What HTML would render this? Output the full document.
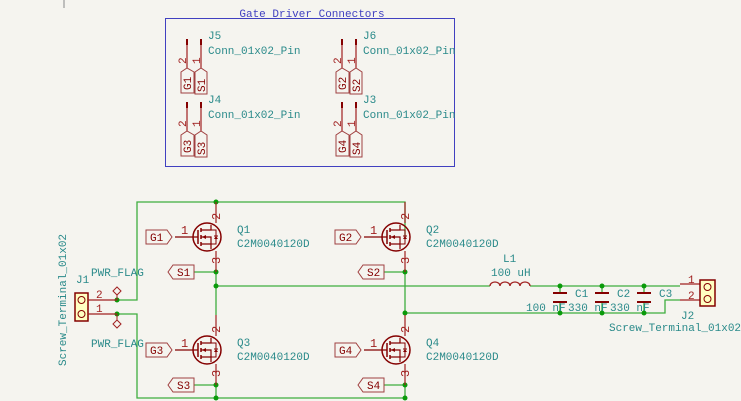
<!DOCTYPE html>
<html><head><style>
html,body{margin:0;padding:0;background:#f5f4ef;}
svg{display:block;}
text{font-family:"Liberation Mono","DejaVu Sans Mono",monospace;}
</style></head><body>
<svg width="741" height="401" viewBox="0 0 741 401" xmlns="http://www.w3.org/2000/svg">
<defs>
<g id="fet">
 <circle cx="0" cy="0" r="14" fill="none" stroke="#840000" stroke-width="1.5"/>
 <line x1="-9" y1="-7" x2="-9" y2="7" stroke="#840000" stroke-width="1.5"/>
 <line x1="-6" y1="-9" x2="-6" y2="-5" stroke="#840000" stroke-width="1.5"/>
 <line x1="-6" y1="-2" x2="-6" y2="2" stroke="#840000" stroke-width="1.5"/>
 <line x1="-6" y1="5" x2="-6" y2="9" stroke="#840000" stroke-width="1.5"/>
 <polyline points="-6,-7 4,-7 4,-12" fill="none" stroke="#840000" stroke-width="1.2"/>
 <polyline points="-6,7 4,7 4,12" fill="none" stroke="#840000" stroke-width="1.2"/>
 <polyline points="-6,0 4,0 4,7" fill="none" stroke="#840000" stroke-width="1.2"/>
 <polygon points="-5,0 -1,-2 -1,2" fill="#840000"/>
 <polyline points="4,-7 9,-7 9,7 4,7" fill="none" stroke="#840000" stroke-width="1"/>
 <polygon points="7,2 11,2 9,-1" fill="#840000"/>
 <line x1="7" y1="-1" x2="11" y2="-1" stroke="#840000"/>
 <line x1="-32" y1="0" x2="-9" y2="0" stroke="#840000" stroke-width="1.2"/>
 <line x1="9" y1="-14" x2="9" y2="-35" stroke="#a02020" stroke-width="1.2"/>
 <line x1="9" y1="14" x2="9" y2="35" stroke="#a02020" stroke-width="1.2"/>
 <text x="-26" y="-3" font-size="12" fill="#a02020">1</text>
 <text x="13" y="-17" font-size="12" fill="#a02020" transform="rotate(-90 13 -17)">2</text>
 <text x="13" y="27" font-size="12" fill="#a02020" transform="rotate(-90 13 27)">3</text>
</g>
</defs>
<line x1="64" y1="0" x2="64" y2="8" stroke="#888" stroke-width="1"/>
<!-- gate driver box -->
<rect x="165.5" y="18.5" width="289" height="148" fill="none" stroke="#4040c0" stroke-width="1"/>
<text x="312" y="17" font-size="11" fill="#4040c0" text-anchor="middle">Gate Driver Connectors</text>
<g font-size="11" fill="#2a8a8a">
<text x="208" y="39">J5</text><text x="208" y="54">Conn_01x02_Pin</text>
<text x="363" y="39">J6</text><text x="363" y="54">Conn_01x02_Pin</text>
<text x="208" y="103">J4</text><text x="208" y="118">Conn_01x02_Pin</text>
<text x="363" y="103">J3</text><text x="363" y="118">Conn_01x02_Pin</text>
</g>
<g id="conn">
<g stroke="#a02020" stroke-width="1.2">
<line x1="187" y1="40" x2="187" y2="68"/><line x1="201" y1="40" x2="201" y2="68"/>
</g>
<rect x="186" y="39" width="2" height="6" fill="#840000"/><rect x="200" y="39" width="2" height="6" fill="#840000"/>
<text x="186" y="64" font-size="11" fill="#a02020" transform="rotate(-90 186 64)">2</text>
<text x="200" y="64" font-size="11" fill="#a02020" transform="rotate(-90 200 64)">1</text>
</g>
<use href="#conn" x="155"/><use href="#conn" y="63"/><use href="#conn" x="155" y="63"/>
<g fill="none" stroke="#a04040" stroke-width="1">
<path d="M181,72 L187,68 L194,72 L194,93 L181,93 Z"/>
<path d="M195,72 L201,68 L207,72 L207,94 L195,94 Z"/>
<path d="M336,72 L342,68 L349,72 L349,93 L336,93 Z"/>
<path d="M350,72 L356,68 L362,72 L362,94 L350,94 Z"/>
<path d="M181,135 L187,131 L194,135 L194,156 L181,156 Z"/>
<path d="M195,135 L201,131 L207,135 L207,157 L195,157 Z"/>
<path d="M336,135 L342,131 L349,135 L349,156 L336,156 Z"/>
<path d="M350,135 L356,131 L362,135 L362,157 L350,157 Z"/>
</g>
<g font-size="11" fill="#840000">
<text x="191" y="90" transform="rotate(-90 191 90)">G1</text><text x="205" y="92" transform="rotate(-90 205 92)">S1</text>
<text x="346" y="90" transform="rotate(-90 346 90)">G2</text><text x="360" y="92" transform="rotate(-90 360 92)">S2</text>
<text x="191" y="153" transform="rotate(-90 191 153)">G3</text><text x="205" y="155" transform="rotate(-90 205 155)">S3</text>
<text x="346" y="153" transform="rotate(-90 346 153)">G4</text><text x="360" y="155" transform="rotate(-90 360 155)">S4</text>
</g>
<!-- wires -->
<g stroke="#3fae3f" stroke-width="1.3" fill="none">
<polyline points="117,300 137,300 137,202 405,202 405,237"/>
<polyline points="117,314 137,314 137,398 405,398"/>
<line x1="216" y1="202" x2="216" y2="202"/>
<line x1="216" y1="272" x2="216" y2="315"/>
<line x1="405" y1="272" x2="405" y2="315"/>
<line x1="216" y1="385" x2="216" y2="398"/>
<line x1="405" y1="385" x2="405" y2="398"/>
<line x1="194" y1="272" x2="216" y2="272"/>
<line x1="384" y1="272" x2="405" y2="272"/>
<line x1="194" y1="385" x2="216" y2="385"/>
<line x1="384" y1="385" x2="405" y2="385"/>
<line x1="216" y1="286" x2="490" y2="286"/>
<line x1="530" y1="286" x2="680" y2="286"/>
<polyline points="405,313 665,313 665,300 680,300"/>
<line x1="560" y1="286" x2="560" y2="293"/><line x1="560" y1="302" x2="560" y2="313"/>
<line x1="602" y1="286" x2="602" y2="293"/><line x1="602" y1="302" x2="602" y2="313"/>
<line x1="644" y1="286" x2="644" y2="293"/><line x1="644" y1="302" x2="644" y2="313"/>
</g>
<g fill="#0a9a0a">
<circle cx="216" cy="202" r="2.5"/><circle cx="216" cy="272" r="2.5"/><circle cx="216" cy="286" r="2.5"/>
<circle cx="216" cy="385" r="2.5"/><circle cx="216" cy="398" r="2.5"/>
<circle cx="405" cy="272" r="2.5"/><circle cx="405" cy="313" r="2.5"/><circle cx="405" cy="385" r="2.5"/><circle cx="405" cy="398" r="2.5"/>
<circle cx="117" cy="300" r="2.5"/><circle cx="117" cy="314" r="2.5"/>
<circle cx="560" cy="286" r="2.5"/><circle cx="602" cy="286" r="2.5"/><circle cx="644" cy="286" r="2.5"/>
<circle cx="560" cy="313" r="2.5"/><circle cx="602" cy="313" r="2.5"/><circle cx="644" cy="313" r="2.5"/>
</g>
<!-- fets -->
<use href="#fet" x="207" y="237"/>
<use href="#fet" x="396" y="237"/>
<use href="#fet" x="207" y="350"/>
<use href="#fet" x="396" y="350"/>
<g font-size="11" fill="#2a8a8a">
<text x="237" y="233">Q1</text><text x="237" y="247">C2M0040120D</text>
<text x="426" y="233">Q2</text><text x="426" y="247">C2M0040120D</text>
<text x="237" y="346">Q3</text><text x="237" y="360">C2M0040120D</text>
<text x="426" y="346">Q4</text><text x="426" y="360">C2M0040120D</text>
</g>
<!-- gate labels -->
<g fill="none" stroke="#a04040" stroke-width="1">
<path d="M146,230 L167,230 L172,237 L167,244 L146,244 Z"/>
<path d="M335,230 L356,230 L361,237 L356,244 L335,244 Z"/>
<path d="M146,343 L167,343 L172,350 L167,357 L146,357 Z"/>
<path d="M335,343 L356,343 L361,350 L356,357 L335,357 Z"/>
<path d="M168,272 L173,265 L194,265 L194,279 L173,279 Z"/>
<path d="M358,272 L363,265 L384,265 L384,279 L363,279 Z"/>
<path d="M168,385 L173,378 L194,378 L194,392 L173,392 Z"/>
<path d="M358,385 L363,378 L384,378 L384,392 L363,392 Z"/>
</g>
<g font-size="11" fill="#840000">
<text x="150" y="241">G1</text><text x="339" y="241">G2</text>
<text x="150" y="354">G3</text><text x="339" y="354">G4</text>
<text x="177" y="276">S1</text><text x="367" y="276">S2</text>
<text x="177" y="389">S3</text><text x="367" y="389">S4</text>
</g>
<!-- J1 -->
<rect x="75" y="293" width="13" height="28" fill="#ffffc2" stroke="#840000" stroke-width="1.5"/>
<circle cx="81.5" cy="300" r="3.5" fill="none" stroke="#840000"/><circle cx="81.5" cy="314" r="3.5" fill="none" stroke="#840000"/>
<line x1="88" y1="300" x2="117" y2="300" stroke="#a02020" stroke-width="1.2"/>
<line x1="88" y1="314" x2="117" y2="314" stroke="#a02020" stroke-width="1.2"/>
<g font-size="11" fill="#a02020"><text x="96" y="298">2</text><text x="96" y="312">1</text></g>
<g fill="none" stroke="#a02020" stroke-width="1">
<line x1="117" y1="300" x2="117" y2="295"/><path d="M117,295 L113,291 L117,287 L121,291 Z"/>
<line x1="117" y1="314" x2="117" y2="320"/><path d="M117,320 L113,324 L117,328 L121,324 Z"/>
</g>
<g font-size="11" fill="#2a8a8a">
<text x="91" y="276">PWR_FLAG</text><text x="91" y="347">PWR_FLAG</text>
<text x="76" y="283">J1</text>
<text x="66" y="366" transform="rotate(-90 66 366)">Screw_Terminal_01x02</text>
</g>
<!-- inductor -->
<path d="M490,286 a5,4 0 0 1 10,0 a5,4 0 0 1 10,0 a5,4 0 0 1 10,0 a5,4 0 0 1 10,0" fill="none" stroke="#a02020" stroke-width="1.3"/>
<g font-size="11" fill="#2a8a8a">
<text x="503" y="262">L1</text><text x="491" y="276">100 uH</text>
</g>
<!-- caps -->
<g stroke="#840000" stroke-width="2">
<line x1="553" y1="293" x2="567" y2="293"/><line x1="553" y1="302" x2="567" y2="302"/>
<line x1="595" y1="293" x2="609" y2="293"/><line x1="595" y1="302" x2="609" y2="302"/>
<line x1="637" y1="293" x2="651" y2="293"/><line x1="637" y1="302" x2="651" y2="302"/>
</g>
<g font-size="11" fill="#2a8a8a">
<text x="575" y="297">C1</text><text x="617" y="297">C2</text><text x="659" y="297">C3</text>
<text x="526" y="311">100 nF</text><text x="568" y="311">330 nF</text><text x="610" y="311">330 nF</text>
</g>
<!-- J2 -->
<line x1="680" y1="284" x2="700" y2="284" stroke="#a02020" stroke-width="1.2"/>
<line x1="680" y1="300" x2="700" y2="300" stroke="#a02020" stroke-width="1.2"/>
<g font-size="11" fill="#a02020"><text x="688" y="283">1</text><text x="688" y="299">2</text></g>
<rect x="700" y="280" width="15" height="26" fill="#ffffc2" stroke="#840000" stroke-width="1.5"/>
<circle cx="707.5" cy="287" r="3.5" fill="none" stroke="#840000"/><circle cx="707.5" cy="299" r="3.5" fill="none" stroke="#840000"/>
<g font-size="11" fill="#2a8a8a">
<text x="681" y="319">J2</text><text x="609" y="331">Screw_Terminal_01x02</text>
</g>
</svg>
</body></html>
